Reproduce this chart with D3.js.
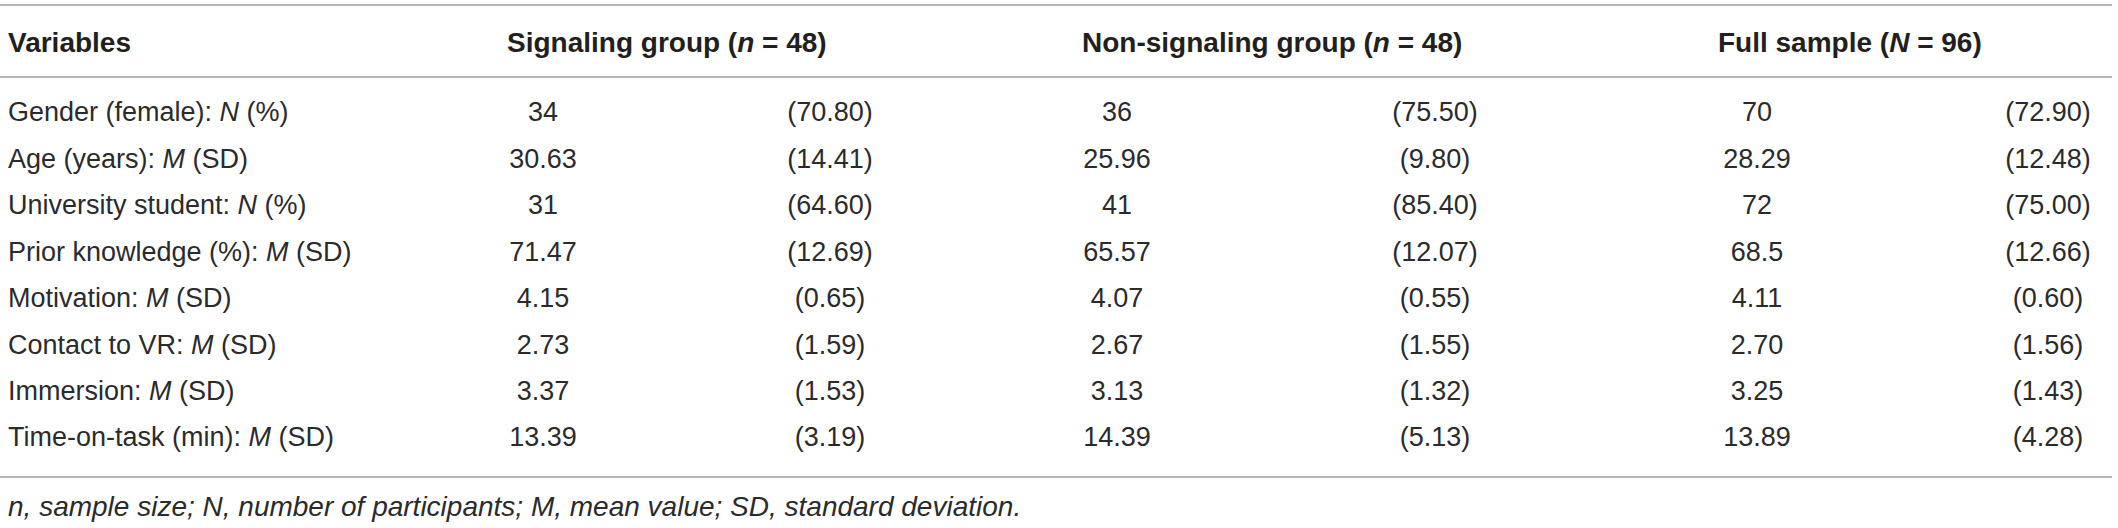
<!DOCTYPE html>
<html>
<head>
<meta charset="utf-8">
<script src="https://cdn.jsdelivr.net/npm/d3@7"></script>
<style>
  html, body { margin: 0; padding: 0; background: #fff; }
  text { font-family: "Liberation Sans", Arial, sans-serif; fill: #2b2b2b; }
  .cabecalho { font-weight: bold; font-size: 28px; fill: #231f20; }
  .celula { font-size: 27px; }
  .nota { font-size: 28px; font-style: italic; }
  .linha { stroke: #9d9d9d; stroke-width: 1.6; }
</style>
</head>
<body>
<svg id="tabela"></svg>
<script>
const variaveis = [
  'Gender (female): N (%)',
  'Age (years): M (SD)',
  'University student: N (%)',
  'Prior knowledge (%): M (SD)',
  'Motivation: M (SD)',
  'Contact to VR: M (SD)',
  'Immersion: M (SD)',
  'Time-on-task (min): M (SD)'
];
const grupos = ['Signaling group', 'Non-signaling group', 'Full sample'];
const simbolosN = ['n', 'n', 'N'];
const tamanhos = [48, 48, 96];

const sinalizacaoM = ['34', '30.63', '31', '71.47', '4.15', '2.73', '3.37', '13.39'];
const sinalizacaoDP = ['70.80', '14.41', '64.60', '12.69', '0.65', '1.59', '1.53', '3.19'];
const semSinalizacaoM = ['36', '25.96', '41', '65.57', '4.07', '2.67', '3.13', '14.39'];
const semSinalizacaoDP = ['75.50', '9.80', '85.40', '12.07', '0.55', '1.55', '1.32', '5.13'];
const amostraM = ['70', '28.29', '72', '68.5', '4.11', '2.70', '3.25', '13.89'];
const amostraDP = ['72.90', '12.48', '75.00', '12.66', '0.60', '1.56', '1.43', '4.28'];

const nota = 'n, sample size; N, number of participants; M, mean value; SD, standard deviation.';

const largura = 2118, altura = 528;
const svg = d3.select('#tabela').attr('width', largura).attr('height', altura);

const colunas = [sinalizacaoM, sinalizacaoDP, semSinalizacaoM, semSinalizacaoDP, amostraM, amostraDP];
const xColuna = d3.scaleOrdinal().domain(d3.range(6)).range([543, 830, 1117, 1435, 1757, 2048]);
const xGrupo = d3.scaleOrdinal().domain(d3.range(3)).range([507, 1082, 1718]);
const y = d3.scalePoint().domain(variaveis).range([112, 437]);

// linhas horizontais
svg.selectAll('.linha')
  .data([5, 77, 477])
  .enter()
  .append('line')
  .classed('linha', true)
  .attr('x1', 0)
  .attr('x2', 2112)
  .attr('y1', d => d)
  .attr('y2', d => d);

// cabecalho
svg.append('text')
  .classed('cabecalho', true)
  .attr('x', 8)
  .attr('y', 42)
  .attr('dy', '0.35em')
  .text('Variables');

const cab = svg.selectAll('.grupo')
  .data(grupos)
  .enter()
  .append('text')
  .classed('cabecalho grupo', true)
  .attr('x', (d, i) => xGrupo(i))
  .attr('y', 42)
  .attr('dy', '0.35em');
cab.append('tspan').text(d => d + ' (');
cab.append('tspan').style('font-style', 'italic').text((d, i) => simbolosN[i]);
cab.append('tspan').text((d, i) => ' = ' + tamanhos[i] + ')');

// rotulos das variaveis, com a letra da estatistica em italico
const rot = svg.selectAll('.rotulo')
  .data(variaveis)
  .enter()
  .append('text')
  .classed('celula rotulo', true)
  .attr('x', 8)
  .attr('y', d => y(d))
  .attr('dy', '0.35em');
rot.append('tspan').text(d => d.slice(0, d.indexOf(': ') + 2));
rot.append('tspan').style('font-style', 'italic').text(d => d.charAt(d.indexOf(': ') + 2));
rot.append('tspan').text(d => d.slice(d.indexOf(': ') + 3));

// valores
colunas.forEach((valores, c) => {
  svg.selectAll('.col' + c)
    .data(valores)
    .enter()
    .append('text')
    .classed('celula col' + c, true)
    .attr('x', xColuna(c))
    .attr('y', (d, i) => y(variaveis[i]))
    .attr('dy', '0.35em')
    .attr('text-anchor', 'middle')
    .text(d => c % 2 ? '(' + d + ')' : d);
});

svg.append('text')
  .classed('nota', true)
  .attr('x', 8)
  .attr('y', 506)
  .attr('dy', '0.35em')
  .text(nota);
</script>
</body>
</html>
